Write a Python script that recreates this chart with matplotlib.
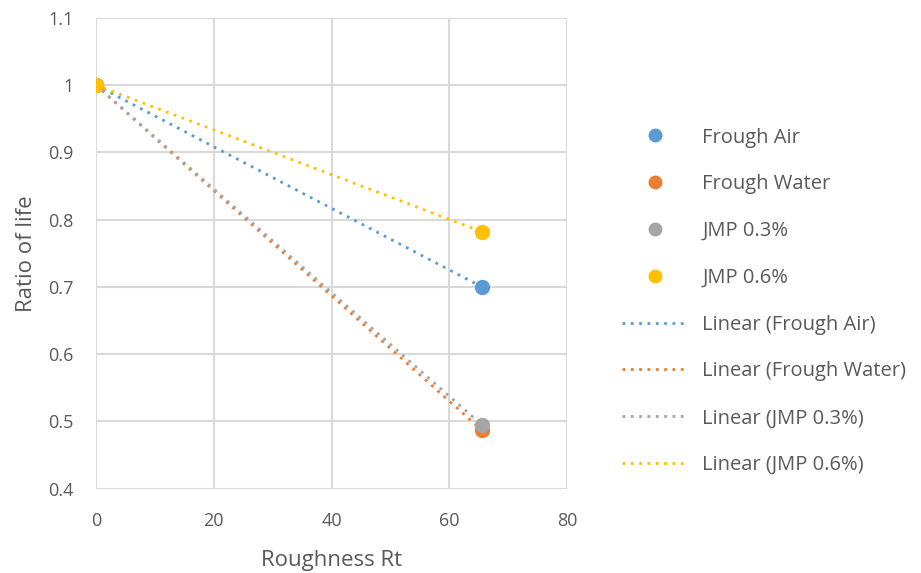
import numpy as np
import matplotlib.pyplot as plt
from matplotlib.lines import Line2D

plt.rcParams['font.family'] = ['Open Sans', 'DejaVu Sans']

roughness = [0, 65.5]
series_names = ["Frough Air", "Frough Water", "JMP 0.3%", "JMP 0.6%"]
ratio_air = [1.0, 0.700]
ratio_water = [1.0, 0.487]
ratio_jmp03 = [1.0, 0.495]
ratio_jmp06 = [1.0, 0.782]
colors = ["#5b9bd5", "#ed7d31", "#a5a5a5", "#ffc000"]

text_color = "#595959"


def run():
    fig = plt.figure(figsize=(9.21, 5.73), dpi=100)
    ax = fig.add_axes([0.104, 0.147, 0.512, 0.822])

    all_ratio = [ratio_air, ratio_water, ratio_jmp03, ratio_jmp06]
    x = np.array(roughness)
    for ratio, c in zip(all_ratio, colors):
        ax.plot(x, ratio, 'o', color=c, markersize=10, zorder=4, linestyle='none')
    for ratio, c in zip(all_ratio, colors):
        k, b = np.polyfit(x, ratio, 1)
        xs = np.array([x.min(), x.max()])
        ax.plot(xs, k * xs + b, color=c, linestyle=(0, (1, 2)), linewidth=2, zorder=3)

    ax.set_xlim(0, 80)
    ax.set_ylim(0.4, 1.1)
    ax.set_xticks([0, 20, 40, 60, 80])
    ax.set_yticks([0.4, 0.5, 0.6, 0.7, 0.8, 0.9, 1.0, 1.1])
    ax.set_yticklabels(["0.4", "0.5", "0.6", "0.7", "0.8", "0.9", "1", "1.1"])
    ax.grid(True, color="#d9d9d9", linewidth=1.5)
    ax.set_axisbelow(True)
    for s in ax.spines.values():
        s.set_visible(False)
    ax.tick_params(length=0, labelsize=13, colors=text_color)
    ax.tick_params(axis='y', pad=16)
    ax.tick_params(axis='x', pad=17)
    ax.set_xlabel("Roughness Rt", fontsize=16, color=text_color, labelpad=14)
    ax.set_ylabel("Ratio of life", fontsize=16, color=text_color, labelpad=8)

    handles = []
    labels = []
    for name, c in zip(series_names, colors):
        handles.append(Line2D([], [], marker='o', color=c, linestyle='none', markersize=9))
        labels.append(name)
    for name, c in zip(series_names, colors):
        handles.append(Line2D([], [], color=c, linestyle=(0, (1, 2)), linewidth=2))
        labels.append("Linear (" + name + ")")
    leg = fig.legend(handles, labels, loc='upper left', bbox_to_anchor=(0.664, 0.795),
                     frameon=False, fontsize=14.5, labelspacing=1.33,
                     handlelength=3.3, handletextpad=0.7, borderpad=0)
    for t in leg.get_texts():
        t.set_color(text_color)

    fig.savefig("out.png", dpi=100)


if __name__ == "__main__":
    run()
